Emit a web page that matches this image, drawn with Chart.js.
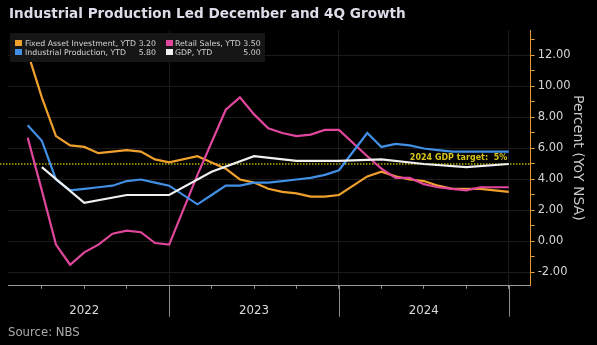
<!DOCTYPE html>
<html>
<head>
<meta charset="utf-8">
<script src="https://cdn.jsdelivr.net/npm/chart.js@4.4.1/dist/chart.umd.min.js"></script>
<style>
  html, body { margin: 0; padding: 0; background: #000; width: 597px; height: 345px; overflow: hidden; }
  #wrap { position: relative; width: 597px; height: 345px; }
  #chart { position: absolute; left: 0; top: 0; }
  #title { position: absolute; left: 9px; top: 4.5px; font: bold 13.6px/16px 'DejaVu Sans', sans-serif; color: #dcdde8; white-space: nowrap; }
  #source { position: absolute; left: 8px; top: 325px; font: 11.7px/14px 'DejaVu Sans', sans-serif; color: #ababab; white-space: nowrap; }
  #legend { position: absolute; left: 10px; top: 33px; width: 255px; height: 29px; background: #161616; }
  .sw { position: absolute; width: 7px; height: 6px; }
  .lt { position: absolute; font: 7.8px/9px 'DejaVu Sans', sans-serif; color: #d6d6d6; white-space: nowrap; }
</style>
</head>
<body>
<div id="wrap">
  <canvas id="chart" width="597" height="345"></canvas>
  <div id="title">Industrial Production Led December and 4Q Growth</div>
  <div id="legend"></div>
  <div id="source">Source: NBS</div>
</div>
<script>
// Monthly year-to-date readings (Jan–Feb reported together, so each year starts in February)
const months = [
  '2022-02','2022-03','2022-04','2022-05','2022-06','2022-07','2022-08','2022-09','2022-10','2022-11','2022-12',
  '2023-02','2023-03','2023-04','2023-05','2023-06','2023-07','2023-08','2023-09','2023-10','2023-11','2023-12',
  '2024-02','2024-03','2024-04','2024-05','2024-06','2024-07','2024-08','2024-09','2024-10','2024-11','2024-12'
];
const fixedAssetInvestment = [
  12.2, 9.3, 6.8, 6.2, 6.1, 5.7, 5.8, 5.9, 5.8, 5.3, 5.1,
  5.5, 5.1, 4.7, 4.0, 3.8, 3.4, 3.2, 3.1, 2.9, 2.9, 3.0,
  4.2, 4.5, 4.2, 4.0, 3.9, 3.6, 3.4, 3.4, 3.4, 3.3, 3.2
];
const retailSales = [
  6.7, 3.3, -0.2, -1.5, -0.7, -0.2, 0.5, 0.7, 0.6, -0.1, -0.2,
  4.3, 6.4, 8.5, 9.3, 8.2, 7.3, 7.0, 6.8, 6.9, 7.2, 7.2,
  5.5, 4.7, 4.1, 4.1, 3.7, 3.5, 3.4, 3.3, 3.5, 3.5, 3.5
];
const industrialProduction = [
  7.5, 6.5, 4.0, 3.3, 3.4, 3.5, 3.6, 3.9, 4.0, 3.8, 3.6,
  2.4, 3.0, 3.6, 3.6, 3.8, 3.8, 3.9, 4.0, 4.1, 4.3, 4.6,
  7.0, 6.1, 6.3, 6.2, 6.0, 5.9, 5.8, 5.8, 5.8, 5.8, 5.8
];
// Quarterly GDP, year to date
const gdpQuarters = ['2022-03','2022-06','2022-09','2022-12','2023-03','2023-06','2023-09','2023-12','2024-03','2024-06','2024-09','2024-12'];
const gdp = [4.8, 2.5, 3.0, 3.0, 4.5, 5.5, 5.2, 5.2, 5.3, 5.0, 4.8, 5.0];

const gdpTarget = 5;
const gdpTargetLabel = '2024 GDP target:  5%';
const yearLabels = ['2022', '2023', '2024'];
const yTicks = [-2, -1, 0, 1, 2, 3, 4, 5, 6, 7, 8, 9, 10, 11, 12, 13];

const seriesNames = ['Fixed Asset Investment, YTD', 'Retail Sales, YTD', 'Industrial Production, YTD', 'GDP, YTD'];
const seriesColors = ['#f0a02c', '#e0469c', '#4190e6', '#f0f0f0'];

// months counted from the start of 2022: Jan 2022 = 1, Dec 2024 = 36
function monthIndex(s) {
  const [y, m] = s.split('-').map(Number);
  return (y - 2022) * 12 + m;
}
function toPoints(keys, values) {
  return keys.map((k, i) => ({ x: monthIndex(k), y: values[i] }));
}

// Legend box with last values
(function buildLegend() {
  const box = document.getElementById('legend');
  const vals = [fixedAssetInvestment, retailSales, industrialProduction, gdp].map(a => a[a.length - 1].toFixed(2));
  const cols = [{ sw: 5, text: 15, valRight: 146 }, { sw: 155.7, text: 165, valRight: 250.7 }];
  const order = [[0, 0, 0], [1, 1, 0], [2, 0, 1], [3, 1, 1]]; // series, column, row
  order.forEach(([s, c, r]) => {
    const col = cols[c];
    const sw = document.createElement('div');
    sw.className = 'sw';
    sw.style.left = col.sw + 'px';
    sw.style.top = (7 + r * 9) + 'px';
    sw.style.background = seriesColors[s];
    box.appendChild(sw);
    const name = document.createElement('div');
    name.className = 'lt';
    name.style.left = col.text + 'px';
    name.style.top = (6 + r * 9) + 'px';
    name.textContent = seriesNames[s];
    box.appendChild(name);
    const val = document.createElement('div');
    val.className = 'lt';
    val.style.right = (255 - col.valRight) + 'px';
    val.style.top = (6 + r * 9) + 'px';
    val.textContent = vals[s];
    box.appendChild(val);
  });
})();

// Dotted target line with its label, plus the long year separators below the axis
const decorations = {
  id: 'decorations',
  beforeDatasetsDraw(chart) {
    const { ctx, chartArea, scales } = chart;
    const y = scales.y.getPixelForValue(gdpTarget);
    ctx.save();
    ctx.strokeStyle = '#b4b000';
    ctx.lineWidth = 1.5;
    ctx.setLineDash([1.5, 1.5]);
    ctx.beginPath();
    ctx.moveTo(0, y);
    ctx.lineTo(chartArea.right, y);
    ctx.stroke();
    ctx.setLineDash([]);
    ctx.font = 'bold 8px "DejaVu Sans"';
    ctx.fillStyle = '#d6c41c';
    ctx.textAlign = 'right';
    ctx.textBaseline = 'alphabetic';
    ctx.fillText(gdpTargetLabel, scales.x.getPixelForValue(36) - 1.5, y - 3.5);
    ctx.restore();
  },
  afterDraw(chart) {
    const { ctx, chartArea, scales } = chart;
    ctx.save();
    ctx.strokeStyle = '#8c8c8c';
    ctx.lineWidth = 1;
    [12, 24, 36].forEach(m => {
      const x = Math.round(scales.x.getPixelForValue(m)) + 0.5;
      ctx.beginPath();
      ctx.moveTo(x, chartArea.bottom);
      ctx.lineTo(x, chartArea.bottom + 31);
      ctx.stroke();
    });
    ctx.restore();
  }
};

Chart.defaults.font.family = "'DejaVu Sans', sans-serif";

const lineStyle = { borderWidth: 2.2, pointRadius: 0, pointHoverRadius: 0, tension: 0, fill: false };

new Chart(document.getElementById('chart'), {
  type: 'line',
  data: {
    datasets: [
      Object.assign({ label: seriesNames[3], data: toPoints(gdpQuarters, gdp), borderColor: seriesColors[3] }, lineStyle),
      Object.assign({ label: seriesNames[2], data: toPoints(months, industrialProduction), borderColor: seriesColors[2] }, lineStyle),
      Object.assign({ label: seriesNames[1], data: toPoints(months, retailSales), borderColor: seriesColors[1] }, lineStyle),
      Object.assign({ label: seriesNames[0], data: toPoints(months, fixedAssetInvestment), borderColor: seriesColors[0] }, lineStyle)
    ]
  },
  options: {
    responsive: false,
    animation: false,
    events: [],
    layout: { padding: { left: 8, top: 30, right: 0, bottom: 0 } },
    plugins: { legend: { display: false }, tooltip: { enabled: false }, title: { display: false } },
    scales: {
      x: {
        type: 'linear',
        min: 0.61,
        max: 37.55,
        afterBuildTicks(scale) {
          scale.ticks = [3, 6, 9, 12, 15, 18, 21, 24, 27, 30, 33, 36].map(v => ({ value: v }));
        },
        afterFit(scale) { scale.height = 59.3; },
        border: { display: true, color: '#9a9a9a', width: 1 },
        grid: {
          drawOnChartArea: true,
          color: ctx => (ctx.tick && ctx.tick.value % 12 === 0) ? '#1b1b1b' : 'rgba(0,0,0,0)',
          tickColor: '#9a9a9a',
          tickLength: 3
        },
        ticks: {
          autoSkip: false,
          maxRotation: 0,
          padding: 15,
          color: '#dadada',
          font: { size: 11.8 },
          callback: v => ({ 6: yearLabels[0], 18: yearLabels[1], 30: yearLabels[2] }[v] || '')
        }
      },
      y: {
        type: 'linear',
        position: 'right',
        min: -2.852,
        max: 13.645,
        afterBuildTicks(scale) {
          scale.ticks = yTicks.map(v => ({ value: v }));
        },
        afterFit(scale) { scale.width = 66.3; },
        border: { display: true, color: '#e39a2e', width: 1 },
        grid: {
          drawOnChartArea: true,
          color: ctx => (ctx.tick && ctx.tick.value % 2 === 0) ? '#1b1b1b' : 'rgba(0,0,0,0)',
          tickColor: '#e39a2e',
          tickLength: 4
        },
        ticks: {
          autoSkip: false,
          padding: 3,
          color: '#d4d4d4',
          font: { size: 11.5 },
          callback: v => (v % 2 === 0 ? v.toFixed(2) : '')
        },
        title: {
          display: true,
          text: 'Percent (YoY NSA)',
          color: '#c9c9c9',
          font: { size: 14 },
          padding: { top: 11, bottom: 0 }
        }
      }
    }
  },
  plugins: [decorations]
});
</script>
</body>
</html>
